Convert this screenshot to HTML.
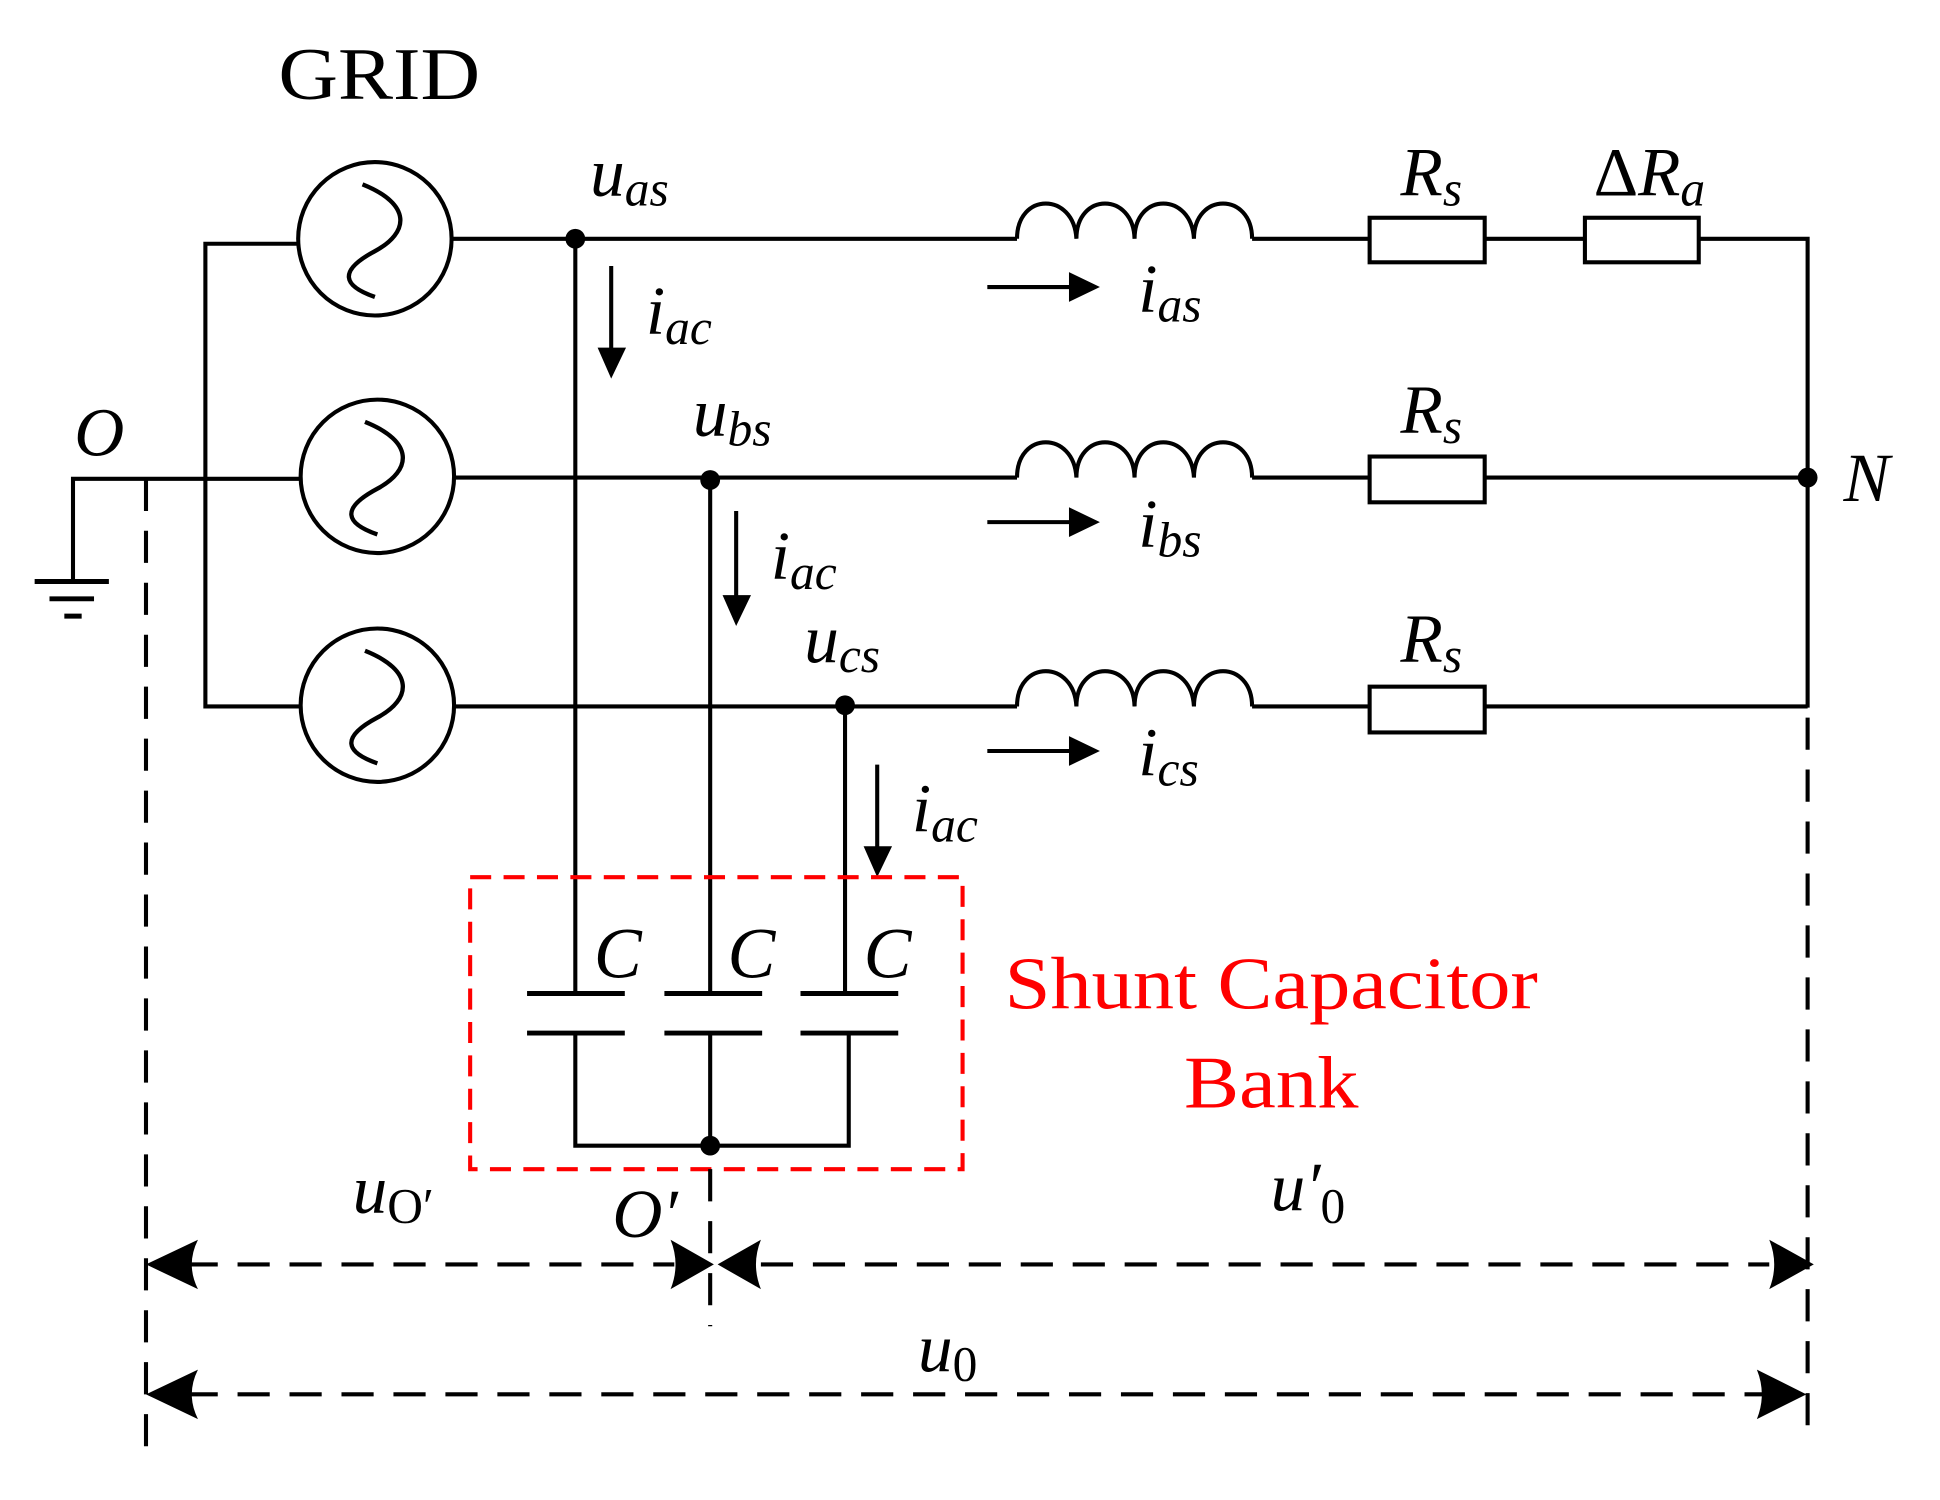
<!DOCTYPE html>
<html><head><meta charset="utf-8"><style>html,body{margin:0;padding:0;background:#fff}svg{display:block}
text{font-family:"Liberation Serif",serif;fill:#000}
.i{font-style:italic}
</style></head><body>
<svg width="1940" height="1500" viewBox="0 0 1568 1212.4" preserveAspectRatio="none" xmlns="http://www.w3.org/2000/svg">
<defs><path id="sw" d="M-10 -44 C30 -28 28 -5 0 10 C-30 26 -26 38 0 47" fill="none" stroke="#000" stroke-width="3.5"/></defs>
<g stroke="#000" stroke-width="3.3" fill="none">
<circle cx="303" cy="193" r="62"/><circle cx="305" cy="385" r="62"/><circle cx="305" cy="570" r="62"/>
<path d="M241 197 H166 V571 H243"/>
<path d="M59 470 V387 H243"/>
<path d="M28 470 H88 M40 484 H76 M52 498 H66" stroke-width="4"/>
<path d="M365 193 H822 M1012 193 H1107 M1200 193 H1281 M1373 193 H1461 V572"/>
<path d="M367 386 H822 M1012 386 H1107 M1200 386 H1461"/>
<path d="M367 571 H822 M1012 571 H1107 M1200 571 H1461"/>
<path d="M822 193 C822 155 868 155 870 193 C870 155 916 155 917 193 C917 155 963 155 965 193 C965 155 1012 155 1012 193"/>
<path d="M822 386 C822 348 868 348 870 386 C870 348 916 348 917 386 C917 348 963 348 965 386 C965 348 1012 348 1012 386"/>
<path d="M822 571 C822 533 868 533 870 571 C870 533 916 533 917 571 C917 533 963 533 965 571 C965 533 1012 533 1012 571"/>
<rect x="1107" y="176" width="93" height="36"/><rect x="1281" y="176" width="92" height="36"/>
<rect x="1107" y="369" width="93" height="37"/><rect x="1107" y="555" width="93" height="37"/>
<path d="M465 193 V803 M574 388 V803 M683 570 V803"/>
<path d="M426 803 H505 M537 803 H616 M647 803 H726 M426 835 H505 M537 835 H616 M647 835 H726" stroke-width="4"/>
<path d="M465 835 V926 H686 V835 M574 835 V926"/>
<path d="M494 215 V285 M595 413 V485 M709 618 V688"/>
<path d="M798 232 H868 M798 422 H868 M798 607 H868"/>
</g>
<use href="#sw" x="303" y="193"/><use href="#sw" x="305" y="385"/><use href="#sw" x="305" y="570"/>
<g fill="#000">
<circle cx="465" cy="193" r="8"/><circle cx="574" cy="388" r="8"/><circle cx="683" cy="570" r="8"/><circle cx="574" cy="926" r="8"/><circle cx="1461" cy="386" r="8"/>
<path d="M483 281 H506 L494 306Z M584 481 H607 L595 506Z M698 684 H721 L709 709Z"/>
<path d="M864 220 V244 L889 232Z M864 410 V434 L889 422Z M864 595 V619 L889 607Z"/>
</g>
<rect x="380" y="709" width="398" height="236" fill="none" stroke="#f00" stroke-width="3.3" stroke-dasharray="17,10"/>
<g stroke="#000" stroke-width="3.3" fill="none" stroke-dasharray="26,16">
<path d="M118 387 V1172"/><path d="M1461 580 V1162"/>
<path d="M574 945 V1072"/>
<path d="M150 1022 H545 M615 1022 H1430"/>
<path d="M150 1127 H1425"/>
</g>
<g fill="#000">
<path d="M118 1022 L160 1002 Q150 1022 160 1042Z"/>
<path d="M577 1022 L542 1002 Q550 1022 542 1042Z"/>
<path d="M580 1022 L615 1002 Q607 1022 615 1042Z"/>
<path d="M1466 1022 L1430 1002 Q1438 1022 1430 1042Z"/>
<path d="M118 1127 L160 1107 Q150 1127 160 1147Z"/>
<path d="M1460 1127 L1420 1107 Q1428 1127 1420 1147Z"/>
</g>
<text x="225" y="80" font-size="60" textLength="163" lengthAdjust="spacingAndGlyphs">GRID</text>
<text x="60" y="368" font-size="56" class="i">O</text>
<text x="1490" y="405" font-size="56" class="i">N</text>
<text x="477" y="158" font-size="56" class="i">u<tspan font-size="40" dy="8">as</tspan></text>
<text x="560" y="352" font-size="56" class="i">u<tspan font-size="40" dy="8">bs</tspan></text>
<text x="650" y="535" font-size="56" class="i">u<tspan font-size="40" dy="8">cs</tspan></text>
<text x="522" y="270" font-size="56" class="i">i<tspan font-size="40" dy="8">ac</tspan></text>
<text x="623" y="468" font-size="56" class="i">i<tspan font-size="40" dy="8">ac</tspan></text>
<text x="737" y="672" font-size="56" class="i">i<tspan font-size="40" dy="8">ac</tspan></text>
<text x="920" y="252" font-size="56" class="i">i<tspan font-size="40" dy="8">as</tspan></text>
<text x="920" y="442" font-size="56" class="i">i<tspan font-size="40" dy="8">bs</tspan></text>
<text x="920" y="627" font-size="56" class="i">i<tspan font-size="40" dy="8">cs</tspan></text>
<text x="1132" y="158" font-size="56" class="i">R<tspan font-size="40" dy="8">s</tspan></text>
<text x="1288" y="158" font-size="56"><tspan>Δ</tspan><tspan class="i">R</tspan><tspan class="i" font-size="40" dy="8">a</tspan></text>
<text x="1132" y="350" font-size="56" class="i">R<tspan font-size="40" dy="8">s</tspan></text>
<text x="1132" y="535" font-size="56" class="i">R<tspan font-size="40" dy="8">s</tspan></text>
<text x="480" y="790" font-size="58" class="i">C</text>
<text x="588" y="790" font-size="58" class="i">C</text>
<text x="698" y="790" font-size="58" class="i">C</text>
<text x="812" y="815" font-size="60" style="fill:#f00" textLength="431" lengthAdjust="spacingAndGlyphs">Shunt Capacitor</text>
<text x="957" y="895" font-size="60" style="fill:#f00" textLength="141" lengthAdjust="spacingAndGlyphs">Bank</text>
<text x="285" y="980" font-size="56" class="i">u<tspan font-size="40" style="font-style:normal" dy="8">O′</tspan></text>
<text x="495" y="1000" font-size="56" class="i">O′</text>
<text x="1027" y="978" font-size="56" class="i">u′<tspan font-size="40" style="font-style:normal" dy="10">0</tspan></text>
<text x="742" y="1108" font-size="56" class="i">u<tspan font-size="40" style="font-style:normal" dy="8">0</tspan></text>
</svg>
</body></html>
